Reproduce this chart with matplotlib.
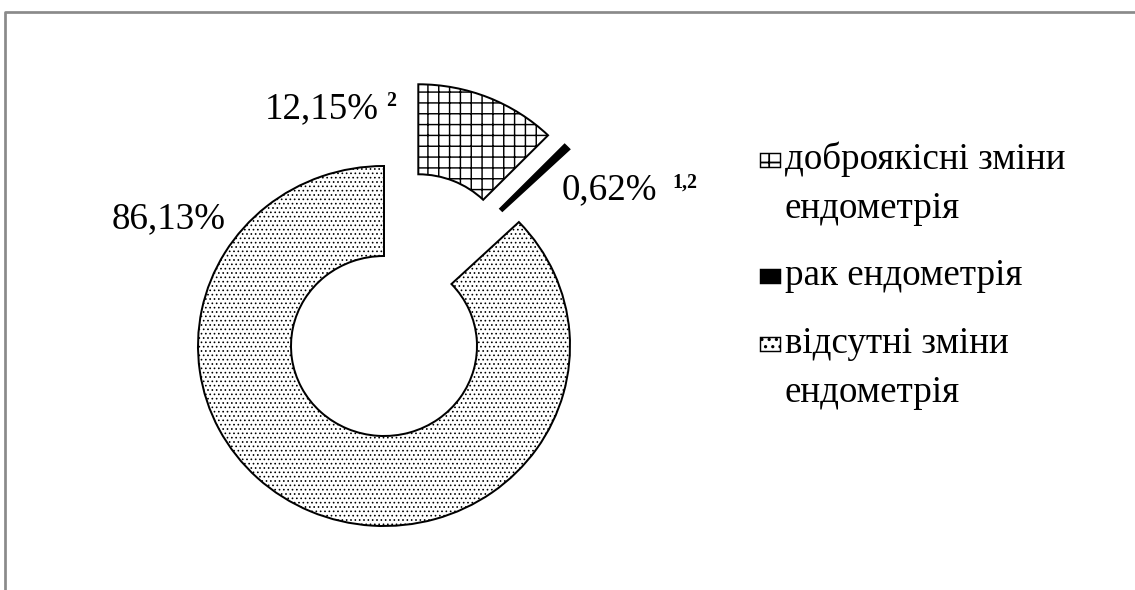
import matplotlib
matplotlib.use('Agg')
import matplotlib.pyplot as plt
from matplotlib.lines import Line2D
from matplotlib.patches import Rectangle

# data
categories = ['доброякісні зміни\nендометрія', 'рак ендометрія', 'відсутні зміни\nендометрія']
values = [12.15, 0.62, 86.13]
notes = ['2', '1,2', '']
hatches = ['++', '', '.....']
face_colors = ['white', 'black', 'white']
hatch_colors = ['black', 'black', '#777777']

W, H, DPI = 1135, 590, 130
serif = ['Liberation Serif', 'DejaVu Serif']
big_font = 20.5
sup_font = 11


def px(x, y):
    # pixel position (from top-left) -> figure fraction
    return x / W, 1 - y / H


fig = plt.figure(figsize=(W / DPI, H / DPI), dpi=DPI)

# axes placed so that the ring centre sits at (384, 346) px
sx, sy = 186, 180
x0, x1, y0, y1 = -1.2, 1.8, -1.15, 1.6
left = 384 + x0 * sx
top = 346 - y1 * sy
ax = fig.add_axes([left / W, (H - top - (y1 - y0) * sy) / H,
                   (x1 - x0) * sx / W, (y1 - y0) * sy / H])

wedges, _ = ax.pie(values, explode=[0.49, 0.49, 0], startangle=90, counterclock=False,
                   colors=face_colors,
                   wedgeprops=dict(width=0.5, edgecolor='black', linewidth=1.1))
for w, h, hc in zip(wedges, hatches, hatch_colors):
    w.set_hatch(h)
    if hasattr(w, 'set_hatchcolor'):
        w.set_hatchcolor(hc)
    if hasattr(w, 'set_hatch_linewidth'):
        w.set_hatch_linewidth(0.8 if h == '++' else 0.5)

# the thin slice is pulled out a bit more upwards in the original
cx, cy = wedges[1].center
wedges[1].set_center((cx - 0.075, cy + 0.06))
wedges[1].set_linewidth(0.8)

ax.set_xlim(x0, x1)
ax.set_ylim(y0, y1)
ax.set_aspect('auto')
ax.axis('off')

# value labels (placed by hand like in the original)
fmt = [f"{v:.2f}".replace('.', ',') + '%' for v in values]
fig.text(*px(265, 118), fmt[0], family=serif, fontsize=big_font, va='baseline', ha='left')
fig.text(*px(386, 106), notes[0], family=serif, fontsize=sup_font, fontweight='bold',
         va='baseline', ha='left')
fig.text(*px(562, 199), fmt[1], family=serif, fontsize=big_font, va='baseline', ha='left')
fig.text(*px(672, 188), notes[1], family=serif, fontsize=sup_font, fontweight='bold',
         va='baseline', ha='left')
fig.text(*px(112, 228), fmt[2], family=serif, fontsize=big_font, va='baseline', ha='left')

# legend drawn by hand: marker aligned with the first line of each entry
first_baselines = [169, 285, 353]
line_step = 49
for cat, fc, h, hc, base in zip(categories, face_colors, hatches, hatch_colors, first_baselines):
    mx, my = px(760, base - 2)
    r = Rectangle((mx, my), 20 / W, 14 / H, transform=fig.transFigure,
                  facecolor=fc, edgecolor='black', linewidth=0.8,
                  hatch=h[:1] if h == '++' else ('...' if h else ''))
    if hasattr(r, 'set_hatchcolor'):
        r.set_hatchcolor(hc)
    fig.add_artist(r)
    for i, line in enumerate(cat.split('\n')):
        fig.text(*px(785, base + i * line_step), line, family=serif, fontsize=big_font,
                 va='baseline', ha='left')

# grey frame on top and left, as in the source picture
bx, by = px(4.5, 12)
fig.add_artist(Line2D([bx, bx, 1.01], [-0.01, by, by], transform=fig.transFigure,
                      color='#8a8a8a', linewidth=1.5))

fig.savefig('out.png', dpi=DPI)
